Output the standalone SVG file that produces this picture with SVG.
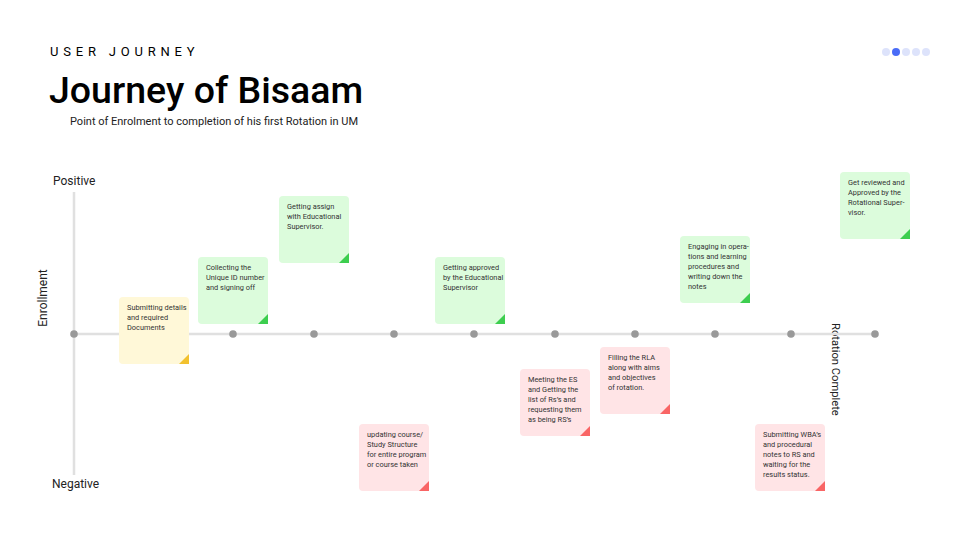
<svg xmlns="http://www.w3.org/2000/svg" width="960" height="540" viewBox="0 0 960 540">
<style>
text{font-family:Roboto,"Liberation Sans",sans-serif;fill:#222}
.nt{font-size:7.4px;fill:#333}
.y{fill:#fff8d8}.yf{fill:#f2c12e}
.g{fill:#dcfcdc}.gf{fill:#3dce4f}
.p{fill:#ffe4e6}.pf{fill:#f96565}
.dot{fill:#999}
.axis{stroke:#e0e0e0;stroke-width:2.5;fill:none}
.k{fill:#000}
</style>
<rect width="960" height="540" fill="#fff"/>
<text class="k" x="50" y="56" font-size="13" letter-spacing="4.8">USER JOURNEY</text>
<text class="k" x="49" y="103" font-size="37.5" font-weight="500">Journey of Bisaam</text>
<text x="70" y="125" font-size="11">Point of Enrolment to completion of his first Rotation in UM</text>
<g id="pager">
<circle cx="886" cy="52" r="4" fill="#dde3fb"/>
<circle cx="896" cy="52" r="4" fill="#4a6cf7"/>
<circle cx="906" cy="52" r="4" fill="#dde3fb"/>
<circle cx="916" cy="52" r="4" fill="#dde3fb"/>
<circle cx="926" cy="52" r="4" fill="#dde3fb"/>
</g>
<text x="53" y="185" font-size="12">Positive</text>
<text x="52" y="488" font-size="12">Negative</text>
<text transform="translate(47,298) rotate(-90)" font-size="12" text-anchor="middle">Enrollment</text>
<text transform="translate(832,323) rotate(90)" font-size="11.2">Rotation Complete</text>
<g id="connectors">
<line class="axis" x1="74" y1="192" x2="74" y2="475"/>
<line class="axis" x1="74" y1="334" x2="875" y2="334"/>
<circle class="dot" cx="74" cy="334" r="3.8"/>
<circle class="dot" cx="153" cy="334" r="3.8"/>
<circle class="dot" cx="233" cy="334" r="3.8"/>
<circle class="dot" cx="314" cy="334" r="3.8"/>
<circle class="dot" cx="394" cy="334" r="3.8"/>
<circle class="dot" cx="474" cy="334" r="3.8"/>
<circle class="dot" cx="555" cy="334" r="3.8"/>
<circle class="dot" cx="635" cy="334" r="3.8"/>
<circle class="dot" cx="715" cy="334" r="3.8"/>
<circle class="dot" cx="791" cy="334" r="3.8"/>
<circle class="dot" cx="875" cy="334" r="3.8"/>
</g>
<g id="n1" transform="translate(119,297)">
<rect class="y" width="70" height="67" rx="4"/><rect class="y" x="60" y="57" width="10" height="10"/>
<polygon class="yf" points="70,57 70,67 60,67"/>
<text class="nt" x="8" y="13">Submitting details</text><text class="nt" x="8" y="23">and required</text><text class="nt" x="8" y="33">Documents</text>
</g>
<g id="n2" transform="translate(198,257)">
<rect class="g" width="70" height="67" rx="4"/><rect class="g" x="60" y="57" width="10" height="10"/>
<polygon class="gf" points="70,57 70,67 60,67"/>
<text class="nt" x="8" y="13">Collecting the</text><text class="nt" x="8" y="23">Unique ID number</text><text class="nt" x="8" y="33">and signing off</text>
</g>
<g id="n3" transform="translate(279,196)">
<rect class="g" width="70" height="67" rx="4"/><rect class="g" x="60" y="57" width="10" height="10"/>
<polygon class="gf" points="70,57 70,67 60,67"/>
<text class="nt" x="8" y="13">Getting assign</text><text class="nt" x="8" y="23">with Educational</text><text class="nt" x="8" y="33">Supervisor.</text>
</g>
<g id="n4" transform="translate(359,424)">
<rect class="p" width="70" height="67" rx="4"/><rect class="p" x="60" y="57" width="10" height="10"/>
<polygon class="pf" points="70,57 70,67 60,67"/>
<text class="nt" x="8" y="13">updating course/</text><text class="nt" x="8" y="23">Study Structure</text><text class="nt" x="8" y="33">for entire program</text><text class="nt" x="8" y="43">or course taken</text>
</g>
<g id="n5" transform="translate(435,257)">
<rect class="g" width="70" height="67" rx="4"/><rect class="g" x="60" y="57" width="10" height="10"/>
<polygon class="gf" points="70,57 70,67 60,67"/>
<text class="nt" x="8" y="13">Getting approved</text><text class="nt" x="8" y="23">by the Educational</text><text class="nt" x="8" y="33">Supervisor</text>
</g>
<g id="n6" transform="translate(520,369)">
<rect class="p" width="70" height="67" rx="4"/><rect class="p" x="60" y="57" width="10" height="10"/>
<polygon class="pf" points="70,57 70,67 60,67"/>
<text class="nt" x="8" y="13">Meeting the ES</text><text class="nt" x="8" y="23">and Getting the</text><text class="nt" x="8" y="33">list of Rs’s and</text><text class="nt" x="8" y="43">requesting them</text><text class="nt" x="8" y="53">as being RS’s</text>
</g>
<g id="n7" transform="translate(600,347)">
<rect class="p" width="70" height="67" rx="4"/><rect class="p" x="60" y="57" width="10" height="10"/>
<polygon class="pf" points="70,57 70,67 60,67"/>
<text class="nt" x="8" y="13">Filling the RLA</text><text class="nt" x="8" y="23">along with aims</text><text class="nt" x="8" y="33">and objectives</text><text class="nt" x="8" y="43">of rotation.</text>
</g>
<g id="n8" transform="translate(680,236)">
<rect class="g" width="70" height="67" rx="4"/><rect class="g" x="60" y="57" width="10" height="10"/>
<polygon class="gf" points="70,57 70,67 60,67"/>
<text class="nt" x="8" y="13">Engaging in opera-</text><text class="nt" x="8" y="23">tions and learning</text><text class="nt" x="8" y="33">procedures and</text><text class="nt" x="8" y="43">writing down the</text><text class="nt" x="8" y="53">notes</text>
</g>
<g id="n9" transform="translate(755,424)">
<rect class="p" width="70" height="67" rx="4"/><rect class="p" x="60" y="57" width="10" height="10"/>
<polygon class="pf" points="70,57 70,67 60,67"/>
<text class="nt" x="8" y="13">Submitting WBA’s</text><text class="nt" x="8" y="23">and procedural</text><text class="nt" x="8" y="33">notes to RS and</text><text class="nt" x="8" y="43">waiting for the</text><text class="nt" x="8" y="53">results status.</text>
</g>
<g id="n10" transform="translate(840,172)">
<rect class="g" width="70" height="67" rx="4"/><rect class="g" x="60" y="57" width="10" height="10"/>
<polygon class="gf" points="70,57 70,67 60,67"/>
<text class="nt" x="8" y="13">Get reviewed and</text><text class="nt" x="8" y="23">Approved by the</text><text class="nt" x="8" y="33">Rotational Super-</text><text class="nt" x="8" y="43">visor.</text>
</g>
</svg>
